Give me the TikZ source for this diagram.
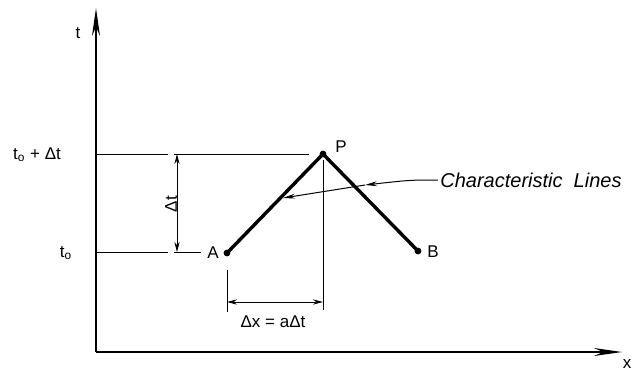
\documentclass[tikz,border=0pt]{standalone}
\usepackage{fontspec}
\setmainfont{Liberation Sans}
\usetikzlibrary{arrows.meta}

\tikzset{
  axis/.style={line width=1.2pt, -{Stealth[length=14pt, width=4pt]}},
  charline/.style={line width=1.7pt},
  thin/.style={line width=0.45pt},
  dim/.style={line width=0.45pt, {Stealth[length=5pt, width=2.6pt]}-{Stealth[length=5pt, width=2.6pt]}},
  lead/.style={line width=0.5pt, -{Stealth[length=6pt, width=2.4pt]}},
  pt/.style={circle, fill, inner sep=1.2pt},
  lbl/.style={font=\fontsize{8.5}{9}\selectfont},
}

\begin{document}
\begin{tikzpicture}[x=0.5pt, y=-0.5pt]
  \useasboundingbox (0,0) rectangle (634,372);
  % axes
  \coordinate (O) at (96,352);
  \coordinate (tend) at (96,8);
  \coordinate (xend) at (622,352);
  \draw[axis] (O) -- (tend);
  \draw[axis] (O) -- (xend);
  \node[lbl] (tlab) at (78,33) {t};
  \node[lbl] (xlab) at (627,364) {x};
  % points
  \node[pt] (A) at (227,253) {};
  \node[pt] (P) at (323,154) {};
  \node[pt] (B) at (418,251) {};
  \node[lbl] (Alab) at (213,253) {A};
  \node[lbl] (Plab) at (341,147) {P};
  \node[lbl] (Blab) at (433,252) {B};
  % characteristic lines
  \draw[charline] (A.center) -- (P.center) -- (B.center);
  % time levels
  \node[lbl] (tup) at (37,155) {t\textsubscript{o} + Δt};
  \node[lbl] (tlow) at (66,253) {t\textsubscript{o}};
  \coordinate (u1) at (97,154);  \coordinate (u2) at (168,154);
  \coordinate (u3) at (174,154); \coordinate (u4) at (309,154);
  \coordinate (l1) at (97,252);  \coordinate (l2) at (168,252);
  \coordinate (l3) at (174,252); \coordinate (l4) at (201,252);
  \draw[thin] (u1) -- (u2) (u3) -- (u4);
  \draw[thin] (l1) -- (l2) (l3) -- (l4);
  % dimension dt
  \coordinate (dt1) at (177,154);
  \coordinate (dt2) at (177,252);
  \draw[dim] (dt1) -- (dt2);
  \node[lbl, rotate=90] (dtlab) at (171,204) {Δt};
  % dimension dx
  \coordinate (e1) at (227,270); \coordinate (e2) at (227,312);
  \coordinate (e3) at (323,160); \coordinate (e4) at (323,310);
  \draw[thin] (e1) -- (e2) (e3) -- (e4);
  \coordinate (dx1) at (227,302);
  \coordinate (dx2) at (323,302);
  \draw[dim] (dx1) -- (dx2);
  \node[lbl] (dxlab) at (273,322) {Δx = aΔt};
  % leader
  \node[font=\fontsize{10}{11}\selectfont\itshape, anchor=west, inner sep=1pt] (clab) at (438,180) {Characteristic\ \ Lines};
  \coordinate (cross) at (365,185);
  \coordinate (hit) at (283,198);
  \draw[lead] (clab.west) .. controls (410,180) .. (cross);
  \draw[lead] (cross) -- (hit);
\end{tikzpicture}
\end{document}
